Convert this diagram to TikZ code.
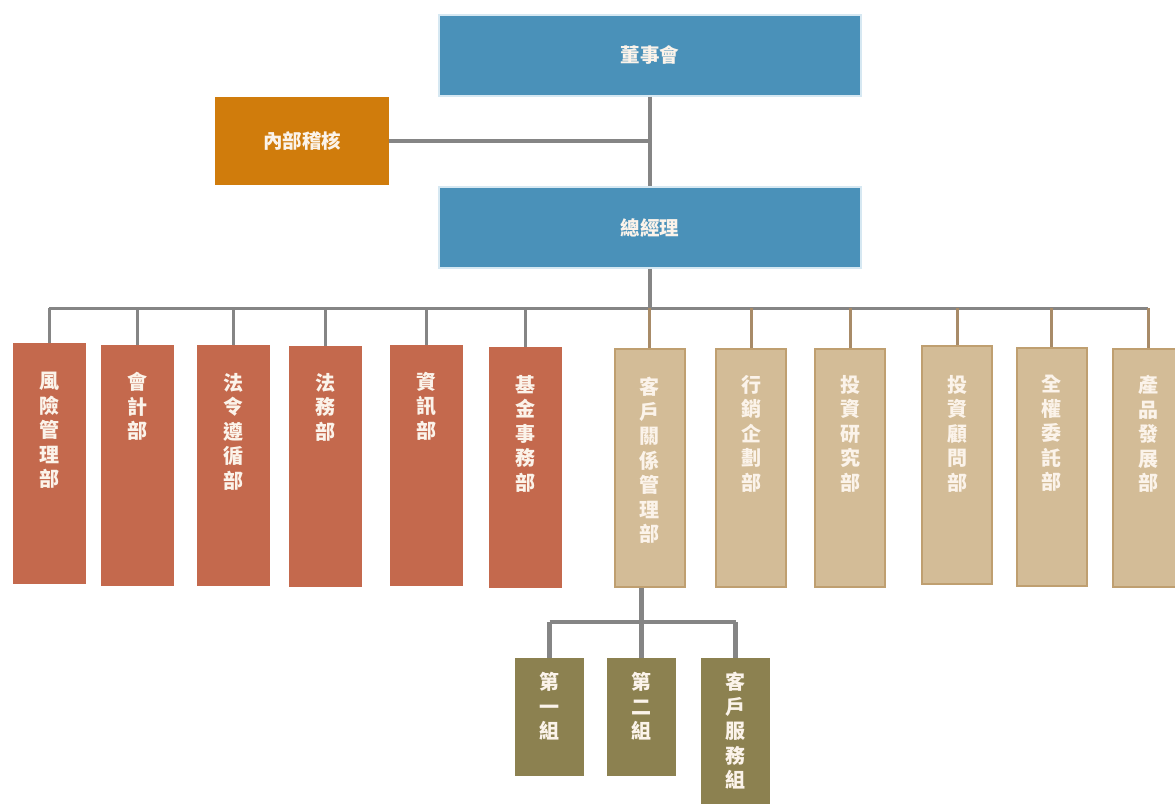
\documentclass[tikz,border=0pt]{standalone}
\usepackage{fontspec}
\newfontfamily\cjk{Noto Sans CJK TC}
\usetikzlibrary{calc}
\definecolor{bluec}{HTML}{4A91B9}
\definecolor{bluer}{HTML}{D6E8F2}
\definecolor{orangec}{HTML}{D07C0C}
\definecolor{redc}{HTML}{C4694D}
\definecolor{beigec}{HTML}{D3BC97}
\definecolor{beigeb}{HTML}{BF9F70}
\definecolor{olivec}{HTML}{8C8150}
\definecolor{linec}{HTML}{858585}
\definecolor{stemc}{HTML}{A88B68}
\definecolor{txtc}{HTML}{FBF3EA}
\begin{document}
\begin{tikzpicture}[x=1pt,y=-1pt,
  topbox/.style={fill=bluec, draw=bluer, line width=1.2pt, minimum width=422pt, minimum height=81pt, inner sep=0pt,
    font=\cjk\bfseries\fontsize{19.5}{22}\selectfont, text=txtc},
  auditbox/.style={fill=orangec, minimum width=174pt, minimum height=88pt, inner sep=0pt,
    font=\cjk\bfseries\fontsize{19.5}{22}\selectfont, text=txtc},
  redbox/.style={fill=redc, minimum width=73pt, minimum height=241pt, inner sep=0pt, anchor=north},
  beigebox/.style={fill=beigec, draw=beigeb, line width=2pt, minimum width=70pt, minimum height=238pt, inner sep=0pt, anchor=north},
  olivebox/.style={fill=olivec, minimum width=69pt, minimum height=118pt, inner sep=0pt, anchor=north},
  vtext/.style={font=\cjk\bfseries\fontsize{20}{24.5}\selectfont, text=txtc, align=center, inner sep=0pt, anchor=north},
  conn/.style={draw=linec, line width=3.5pt},
  busline/.style={draw=linec, line width=3pt},
  stem/.style={draw=stemc, line width=3pt},
  subconn/.style={draw=linec, line width=4.5pt}
]
\useasboundingbox[fill=white] (0,0) rectangle (1175,803);

% top level
\node[topbox] (board) at (650,55.5) {董事會};
\node[auditbox] (audit) at (302,141) {內部稽核};
\node[topbox] (gm) at (650,227.5) {總經理};

% departments
\node[redbox] (d1) at (49,343) {};
\node[redbox] (d2) at (137.5,345) {};
\node[redbox] (d3) at (233.5,345) {};
\node[redbox] (d4) at (325.5,346) {};
\node[redbox] (d5) at (426,345) {};
\node[redbox] (d6) at (525,347) {};
\node[beigebox] (d7) at (649.5,348) {};
\node[beigebox] (d8) at (751,348) {};
\node[beigebox] (d9) at (850,348) {};
\node[beigebox] (d10) at (957,345) {};
\node[beigebox] (d11) at (1051.5,347) {};
\node[beigebox] (d12) at (1148,348) {};

\node[vtext] (t1) at ($(d1.north)+(0,29)$) {風\\險\\管\\理\\部};
\node[vtext] (t2) at ($(d2.north)+(0,27)$) {會\\計\\部};
\node[vtext] (t3) at ($(d3.north)+(0,28)$) {法\\令\\遵\\循\\部};
\node[vtext] (t4) at ($(d4.north)+(0,27)$) {法\\務\\部};
\node[vtext] (t5) at ($(d5.north)+(0,27)$) {資\\訊\\部};
\node[vtext] (t6) at ($(d6.north)+(0,28)$) {基\\金\\事\\務\\部};
\node[vtext] (t7) at ($(d7.north)+(0,29)$) {客\\戶\\關\\係\\管\\理\\部};
\node[vtext] (t8) at ($(d8.north)+(0,27)$) {行\\銷\\企\\劃\\部};
\node[vtext] (t9) at ($(d9.north)+(0,27)$) {投\\資\\研\\究\\部};
\node[vtext] (t10) at ($(d10.north)+(0,30)$) {投\\資\\顧\\問\\部};
\node[vtext] (t11) at ($(d11.north)+(0,28)$) {全\\權\\委\\託\\部};
\node[vtext] (t12) at ($(d12.north)+(0,27)$) {產\\品\\發\\展\\部};

% sub groups
\node[olivebox] (s1) at (549.5,658) {};
\node[olivebox] (s2) at (641.5,658) {};
\node[olivebox, minimum height=160pt] (s3) at (735.5,658) {};
\node[vtext] (u1) at ($(s1.north)+(0,14)$) {第\\一\\組};
\node[vtext] (u2) at ($(s2.north)+(0,14)$) {第\\二\\組};
\node[vtext] (u3) at ($(s3.north)+(0,14)$) {客\\戶\\服\\務\\組};

% connectors top
\draw[conn] (board.south) -- (gm.north);
\draw[conn] (audit.east) -- (audit.east -| board.south);
\coordinate (bus) at (650,308);
\draw[conn] (gm.south) -- (bus);
\draw[busline] (d1.north |- bus) -- (d12.north |- bus);
\foreach \i in {1,...,6} {\draw[busline] (d\i.north |- bus) -- (d\i.north);}
\foreach \i in {7,...,12} {\draw[stem] (d\i.north |- bus) -- (d\i.north);}

% connectors sub
\coordinate (sbus) at (643,622);
\draw[subconn] (d7.south -| s2.north) -- (s2.north);
\draw[subconn] (s1.north |- sbus) -- (s3.north |- sbus);
\draw[subconn] (s1.north |- sbus) -- (s1.north);
\draw[subconn] (s3.north |- sbus) -- (s3.north);
\end{tikzpicture}
\end{document}
